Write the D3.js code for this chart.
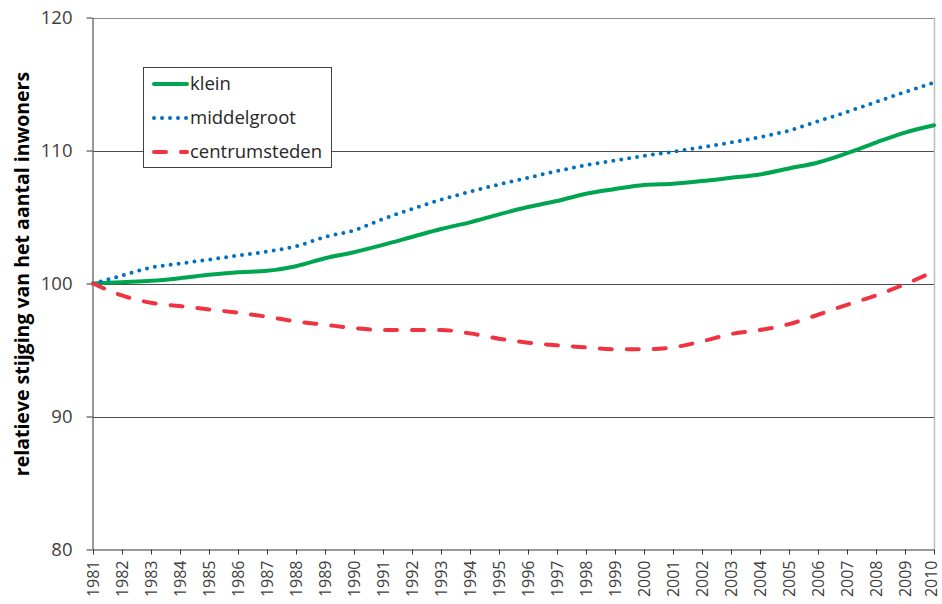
<!DOCTYPE html>
<html><head><meta charset="utf-8">
<script src="https://cdn.jsdelivr.net/npm/d3@7"></script>
<style>
body{margin:0;background:#fff;}
svg{display:block;font-family:"Open Sans",sans-serif;}
</style></head>
<body><svg id="c" width="942" height="604"></svg>
<script>
const years = d3.range(1981, 2011);
const klein = [100,100.1,100.2,100.4,100.65,100.85,100.95,101.3,101.9,102.35,102.9,103.5,104.1,104.6,105.2,105.75,106.2,106.75,107.1,107.4,107.5,107.7,107.95,108.2,108.65,109.1,109.8,110.6,111.35,111.9];
const middelgroot = [100,100.6,101.2,101.5,101.8,102.1,102.4,102.8,103.5,104.0,104.85,105.6,106.3,106.9,107.45,107.95,108.45,108.9,109.25,109.6,109.9,110.25,110.6,111.0,111.5,112.2,112.9,113.65,114.4,115.1];
const centrumsteden = [100,99.1,98.55,98.3,98.05,97.8,97.5,97.15,96.9,96.65,96.5,96.5,96.5,96.25,95.85,95.55,95.35,95.2,95.05,95.05,95.2,95.65,96.2,96.5,96.95,97.65,98.4,99.1,99.95,100.9];
const yTicks = [80,90,100,110,120];
const seriesNames = ["klein","middelgroot","centrumsteden"];
const seriesColors = ["#00a550","#0070c0","#ef3340"];

const svg = d3.select("#c");
const L = 93, R = 934, T = 17.5, B = 549.5;
const x = d3.scalePoint().domain(years).range([L, R]);
const y = d3.scaleLinear().domain([80,120]).range([B, T]);

// gridlines
svg.append("g").selectAll("line").data(yTicks.filter(d=>d>80)).join("line")
  .attr("x1", L).attr("x2", R)
  .attr("y1", d=>Math.round(y(d))+0.5).attr("y2", d=>Math.round(y(d))+0.5)
  .attr("stroke", d=>d===120?"#8c8c8c":"#4d4d4d").attr("stroke-width",1);
// right border
svg.append("line").attr("x1",R+0.5).attr("x2",R+0.5).attr("y1",T).attr("y2",B)
  .attr("stroke","#bdbdbd").attr("stroke-width",1.5);

// y axis
const ya = svg.append("g").attr("transform",`translate(${L-0.5},0)`)
  .call(d3.axisLeft(y).tickValues(yTicks).tickSize(6).tickSizeOuter(0).tickFormat(d3.format("d")));
ya.select(".domain").attr("stroke","#333");
ya.selectAll(".tick line").attr("stroke","#333");
ya.selectAll("text").attr("font-size","18.5px").attr("fill","#404040").attr("x",-20).attr("font-family","Open Sans");

// x axis
const xa = svg.append("g").attr("transform",`translate(0,${B})`)
  .call(d3.axisBottom(x).tickSize(5).tickSizeOuter(0).tickFormat(d3.format("d")));
xa.select(".domain").attr("stroke","#333");
xa.selectAll(".tick line").attr("stroke","#333");
xa.selectAll("text").attr("font-size","16px").attr("fill","#404040").attr("font-family","Open Sans")
  .attr("transform","rotate(-90)").attr("text-anchor","end")
  .attr("x",-11).attr("y",d=>d===2010?-3:0).attr("dy","0.34em");

// y title
svg.append("text").attr("transform","translate(22,274) rotate(-90)")
  .attr("text-anchor","middle").attr("dy","0.35em")
  .attr("font-size","19.5px").attr("font-weight","bold").attr("fill","#000")
  .text("relatieve stijging van het aantal inwoners");

const line = d3.line().x((d,i)=>x(years[i])).y(d=>y(d)).curve(d3.curveMonotoneX);
const dash = ["none","0,8","12,15"];
const caps = ["round","round","round"];
const widths = [4,4,4];
[klein, middelgroot, centrumsteden].forEach((s,k)=>{
  svg.append("path").attr("d", line(s)).attr("fill","none")
    .attr("stroke", seriesColors[k]).attr("stroke-width", widths[k])
    .attr("stroke-dasharray", dash[k]).attr("stroke-linecap", caps[k]).attr("stroke-linejoin","round");
});

// legend
const lg = svg.append("g");
lg.append("rect").attr("x",143.5).attr("y",67.5).attr("width",188).attr("height",100)
  .attr("fill","#fff").attr("stroke","#404040").attr("stroke-width",1);
const ly = [84,118,152];
seriesNames.forEach((n,k)=>{
  lg.append("line").attr("x1",154).attr("x2",187).attr("y1",ly[k]).attr("y2",ly[k])
    .attr("stroke",seriesColors[k]).attr("stroke-width",4)
    .attr("stroke-dasharray",dash[k]).attr("stroke-linecap","round");
  lg.append("text").attr("x",190).attr("y",ly[k]).attr("dy","0.35em")
    .attr("font-size","18.5px").attr("fill","#262626").text(n);
});
</script></body></html>
